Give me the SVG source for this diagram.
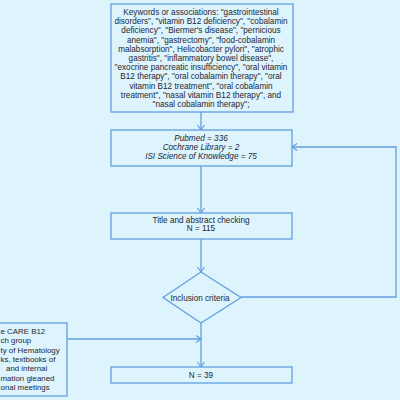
<svg xmlns="http://www.w3.org/2000/svg" width="400" height="400" viewBox="0 0 400 400">
<style>
.bg{fill:#ddf4fd}
.box{fill:#ddf4fd;stroke:#629fe0;stroke-width:1.3}
.ln{fill:none;stroke:#629fe0;stroke-width:1.3}
text{font-family:"Liberation Sans",Arial,sans-serif;font-size:8.2px;fill:#1e2633}
.c{text-anchor:middle}
.s{text-anchor:start;font-size:7.9px}
.i{font-style:italic}
</style>
<defs>
<marker id="arr" markerUnits="userSpaceOnUse" markerWidth="10" markerHeight="10" viewBox="0 0 10 10" refX="7" refY="5" orient="auto">
<path d="M2,1.5 L7,5 L2,8.5" fill="none" stroke="#629fe0" stroke-width="1.2"/>
</marker>
</defs>
<rect class="bg" x="0" y="0" width="400" height="400"/>
<g id="connectors">
<path class="ln" d="M201,112 V130" marker-end="url(#arr)"/>
<path class="ln" d="M201,166 V213" marker-end="url(#arr)"/>
<path class="ln" d="M201,239 V272" marker-end="url(#arr)"/>
<path class="ln" d="M241,297 H396 V147 H292" marker-end="url(#arr)"/>
<path class="ln" d="M201,323 V367" marker-end="url(#arr)"/>
<path class="ln" d="M67,339 H201" marker-end="url(#arr)"/>
</g>
<g id="keywords">
<rect class="box" x="111" y="4" width="182" height="108"/>
<text class="c" x="201" y="15">Keywords or associations: "gastrointestinal</text>
<text class="c" x="201" y="24.2">disorders", "vitamin B12 deficiency", "cobalamin</text>
<text class="c" x="201" y="33.4">deficiency", "Biermer's disease", "pernicious</text>
<text class="c" x="201" y="42.6">anemia", "gastrectomy", "food-cobalamin</text>
<text class="c" x="201" y="51.8">malabsorption", Helicobacter pylori", "atrophic</text>
<text class="c" x="201" y="61">gastritis", "inflammatory bowel disease",</text>
<text class="c" x="201" y="70.2">"exocrine pancreatic insufficiency", "oral vitamin</text>
<text class="c" x="201" y="79.4">B12 therapy", "oral cobalamin therapy", "oral</text>
<text class="c" x="201" y="88.6">vitamin B12 treatment", "oral cobalamin</text>
<text class="c" x="201" y="97.8">treatment", "nasal vitamin B12 therapy", and</text>
<text class="c" x="201" y="107">"nasal cobalamin therapy";</text>
</g>
<g id="databases">
<rect class="box" x="111" y="130" width="181" height="36"/>
<text class="c i" x="201" y="141">Pubmed = 336</text>
<text class="c i" x="201" y="150">Cochrane Library = 2</text>
<text class="c i" x="201" y="159">ISI Science of Knowledge = 75</text>
</g>
<g id="screening">
<rect class="box" x="111" y="213" width="181" height="26"/>
<text class="c" x="201" y="223">Title and abstract checking</text>
<text class="c" x="201" y="231">N = 115</text>
</g>
<g id="inclusion">
<polygon class="box" points="201,272 241,297.5 201,323 163,297.5"/>
<text class="c" x="200" y="300.5">Inclusion criteria</text>
</g>
<g id="other-sources">
<rect class="box" x="-10" y="323" width="77" height="73"/>
<text class="s" x="0.5" y="334">e CARE B12</text>
<text class="s" x="0.5" y="343.3">ch group</text>
<text class="s" x="0.5" y="352.6">ty of Hematology</text>
<text class="s" x="0.5" y="361.9">ks, textbooks of</text>
<text class="s" x="6" y="371.2">and internal</text>
<text class="s" x="0.5" y="380.5">mation gleaned</text>
<text class="s" x="0.5" y="389.8">onal meetings</text>
</g>
<g id="final">
<rect class="box" x="111" y="367" width="181" height="16"/>
<text class="c" x="201" y="378">N = 39</text>
</g>
</svg>
